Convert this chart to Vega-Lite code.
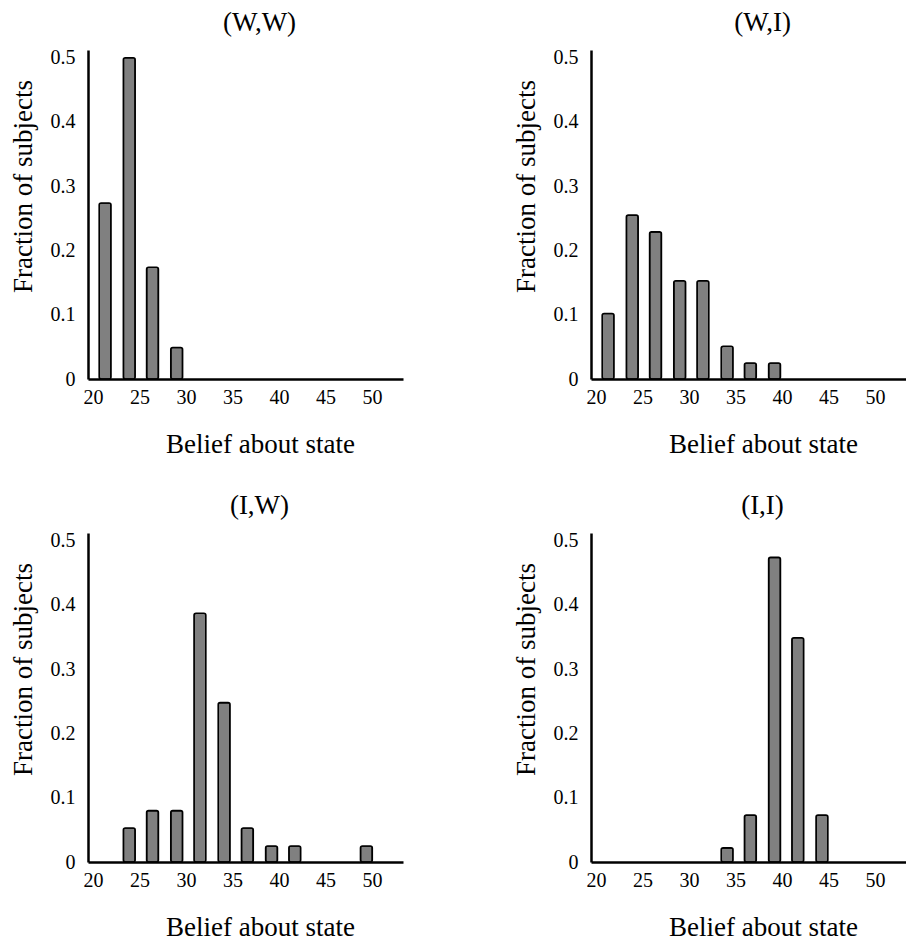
{
  "$schema": "https://vega.github.io/schema/vega-lite/v6.json",
  "background": "white",
  "padding": {"left": 8, "top": 8, "right": 0, "bottom": 0},
  "data": {"values": [
    {"panel": "WW", "belief": 21.3, "fraction": 0.274},
    {"panel": "WW", "belief": 23.9, "fraction": 0.5},
    {"panel": "WW", "belief": 26.4, "fraction": 0.174},
    {"panel": "WW", "belief": 29.0, "fraction": 0.049},
    {"panel": "WI", "belief": 21.3, "fraction": 0.102},
    {"panel": "WI", "belief": 23.9, "fraction": 0.255},
    {"panel": "WI", "belief": 26.4, "fraction": 0.229},
    {"panel": "WI", "belief": 29.0, "fraction": 0.153},
    {"panel": "WI", "belief": 31.5, "fraction": 0.153},
    {"panel": "WI", "belief": 34.1, "fraction": 0.051},
    {"panel": "WI", "belief": 36.6, "fraction": 0.025},
    {"panel": "WI", "belief": 39.2, "fraction": 0.025},
    {"panel": "IW", "belief": 23.9, "fraction": 0.053},
    {"panel": "IW", "belief": 26.4, "fraction": 0.080},
    {"panel": "IW", "belief": 29.0, "fraction": 0.080},
    {"panel": "IW", "belief": 31.5, "fraction": 0.387},
    {"panel": "IW", "belief": 34.1, "fraction": 0.248},
    {"panel": "IW", "belief": 36.6, "fraction": 0.053},
    {"panel": "IW", "belief": 39.2, "fraction": 0.025},
    {"panel": "IW", "belief": 41.7, "fraction": 0.025},
    {"panel": "IW", "belief": 49.4, "fraction": 0.025},
    {"panel": "II", "belief": 34.1, "fraction": 0.022},
    {"panel": "II", "belief": 36.6, "fraction": 0.073},
    {"panel": "II", "belief": 39.2, "fraction": 0.474},
    {"panel": "II", "belief": 41.7, "fraction": 0.349},
    {"panel": "II", "belief": 44.3, "fraction": 0.073}
  ]},
  "columns": 2,
  "spacing": {"row": 154, "column": 188},
  "bounds": "flush",
  "config": {
    "font": "Liberation Serif",
    "view": {"stroke": null},
    "style": {"guide-label": {"font": "Liberation Serif", "fontSize": 20, "fill": "black"}, "guide-title": {"font": "Liberation Serif"}},
    "title": {"font": "Liberation Serif", "fontSize": 27, "fontWeight": "normal", "color": "black", "anchor": "middle", "dx": 14, "offset": 11},
    "axis": {
      "domainColor": "black",
      "domainWidth": 2.5,
      "ticks": false,
      "tickSize": 0,
      "grid": false,
      "labelFont": "Liberation Serif",
      "labelColor": "black",
      "labelFontSize": 20,
      "titleFont": "Liberation Serif",
      "titleColor": "black",
      "titleFontWeight": "normal",
      "titleFontSize": 27
    },
    "axisX": {"labelPadding": 8, "titleX": 172, "titleY": 65, "titleBaseline": "middle", "titleAlign": "center"},
    "axisY": {"labelPadding": 13, "titleX": -65, "titleY": 136, "titleBaseline": "middle", "titleAlign": "center", "titleAngle": -90}
  },
  "concat": [
    {
      "title": "(W,W)",
      "width": 315, "height": 329,
      "transform": [{"filter": "datum.panel === 'WW'"}],
      "mark": {"type": "bar", "size": 11.8, "fill": "#808080", "stroke": "black", "strokeWidth": 1.6, "cornerRadius": 2},
      "encoding": {
        "x": {"field": "belief", "type": "quantitative", "scale": {"domain": [20, 52.8], "nice": false, "zero": false}, "axis": {"values": [20, 25, 30, 35, 40, 45, 50], "labelFont": "Liberation Serif", "title": "Belief about state"}},
        "y": {"field": "fraction", "type": "quantitative", "scale": {"domain": [0, 0.512], "nice": false}, "axis": {"values": [0, 0.1, 0.2, 0.3, 0.4, 0.5], "labelFont": "Liberation Serif", "labelExpr": "datum.value === 0 ? '0' : format(datum.value, '.1f')", "title": "Fraction of subjects"}}
      }
    },
    {
      "title": "(W,I)",
      "width": 315, "height": 329,
      "transform": [{"filter": "datum.panel === 'WI'"}],
      "mark": {"type": "bar", "size": 11.8, "fill": "#808080", "stroke": "black", "strokeWidth": 1.6, "cornerRadius": 2},
      "encoding": {
        "x": {"field": "belief", "type": "quantitative", "scale": {"domain": [20, 52.8], "nice": false, "zero": false}, "axis": {"values": [20, 25, 30, 35, 40, 45, 50], "labelFont": "Liberation Serif", "title": "Belief about state"}},
        "y": {"field": "fraction", "type": "quantitative", "scale": {"domain": [0, 0.512], "nice": false}, "axis": {"values": [0, 0.1, 0.2, 0.3, 0.4, 0.5], "labelFont": "Liberation Serif", "labelExpr": "datum.value === 0 ? '0' : format(datum.value, '.1f')", "title": "Fraction of subjects"}}
      }
    },
    {
      "title": "(I,W)",
      "width": 315, "height": 329,
      "transform": [{"filter": "datum.panel === 'IW'"}],
      "mark": {"type": "bar", "size": 11.8, "fill": "#808080", "stroke": "black", "strokeWidth": 1.6, "cornerRadius": 2},
      "encoding": {
        "x": {"field": "belief", "type": "quantitative", "scale": {"domain": [20, 52.8], "nice": false, "zero": false}, "axis": {"values": [20, 25, 30, 35, 40, 45, 50], "labelFont": "Liberation Serif", "title": "Belief about state"}},
        "y": {"field": "fraction", "type": "quantitative", "scale": {"domain": [0, 0.512], "nice": false}, "axis": {"values": [0, 0.1, 0.2, 0.3, 0.4, 0.5], "labelFont": "Liberation Serif", "labelExpr": "datum.value === 0 ? '0' : format(datum.value, '.1f')", "title": "Fraction of subjects"}}
      }
    },
    {
      "title": "(I,I)",
      "width": 315, "height": 329,
      "transform": [{"filter": "datum.panel === 'II'"}],
      "mark": {"type": "bar", "size": 11.8, "fill": "#808080", "stroke": "black", "strokeWidth": 1.6, "cornerRadius": 2},
      "encoding": {
        "x": {"field": "belief", "type": "quantitative", "scale": {"domain": [20, 52.8], "nice": false, "zero": false}, "axis": {"values": [20, 25, 30, 35, 40, 45, 50], "labelFont": "Liberation Serif", "title": "Belief about state"}},
        "y": {"field": "fraction", "type": "quantitative", "scale": {"domain": [0, 0.512], "nice": false}, "axis": {"values": [0, 0.1, 0.2, 0.3, 0.4, 0.5], "labelFont": "Liberation Serif", "labelExpr": "datum.value === 0 ? '0' : format(datum.value, '.1f')", "title": "Fraction of subjects"}}
      }
    }
  ]
}
